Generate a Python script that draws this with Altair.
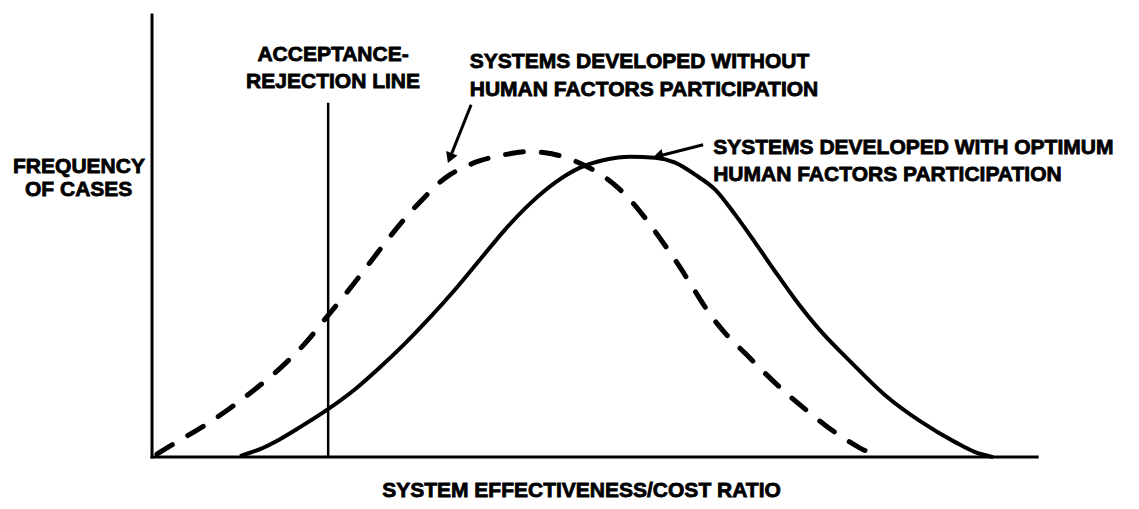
import altair as alt
import pandas as pd

# ---- data (x: effectiveness/cost ratio, 0..100 along axis; y: frequency, 0..100) ----
dashed_x = [0.56, 3.16, 5.99, 8.81, 11.64, 14.46, 17.29, 19.89, 22.37, 24.63, 26.89, 29.15, 30.85,
            32.20, 33.67, 35.14, 37.06, 38.76, 40.45, 42.37, 44.41, 46.44, 48.70, 51.07, 52.88,
            54.58, 56.27, 57.97, 59.66, 61.36, 63.05, 64.97, 67.01, 69.27, 71.53, 73.79, 76.05,
            78.31, 80.00, 81.47]
dashed_y = [0.98, 5.56, 10.46, 16.01, 22.22, 29.08, 37.25, 46.41, 55.23, 63.73, 72.22, 80.07, 85.29,
            89.22, 92.48, 94.77, 97.06, 98.37, 99.35, 100.0, 99.67, 98.37, 95.75, 91.83, 87.58,
            82.35, 76.14, 69.28, 62.09, 54.25, 46.73, 39.87, 33.99, 27.45, 21.24, 15.69, 10.46,
            5.88, 2.94, 0.98]

solid_x = [9.94, 12.20, 14.46, 16.72, 19.89, 22.94, 25.76, 28.59, 31.41, 34.24, 37.06, 39.89, 42.71,
           45.54, 48.36, 51.19, 54.01, 56.84, 59.10, 61.36, 63.62, 65.88, 68.14, 70.40, 72.66,
           75.48, 78.87, 82.82, 86.78, 90.73, 92.99, 95.03]
solid_y = [0.33, 2.61, 5.88, 9.80, 15.69, 22.22, 29.41, 37.25, 45.75, 54.90, 64.71, 74.51, 83.01,
           89.87, 94.77, 97.39, 98.37, 98.04, 96.41, 92.48, 87.58, 79.41, 70.26, 60.78, 51.63,
           41.50, 31.37, 20.26, 11.76, 4.90, 1.63, 0.0]

acceptance_x = 19.9
acceptance_top = 116.0
axis_x_end = 100.0
axis_y_top = 144.8

# annotations
center_labels = ["ACCEPTANCE-", "REJECTION LINE"]
center_x = [20.45, 20.45]
center_y = [131.7, 122.9]

left_labels = ["SYSTEMS DEVELOPED WITHOUT", "HUMAN FACTORS PARTICIPATION",
               "SYSTEMS DEVELOPED WITH OPTIMUM", "HUMAN FACTORS PARTICIPATION",
               "FREQUENCY", "OF CASES",
               "SYSTEM EFFECTIVENESS/COST RATIO"]
left_x = [35.9, 35.9, 63.4, 63.4, -15.7, -14.35, 26.0]
left_y = [129.4, 120.3, 101.3, 92.5, 95.1, 87.6, -11.1]

arrow_tail_x = [36.05, 62.26]
arrow_tail_y = [115.4, 102.3]
arrow_tip_x = [33.65, 57.15]
arrow_tip_y = [97.9, 98.5]
arrow_angle = [201.6, 255.4]

# ---- tables ----
dashed_df = pd.DataFrame({"x": dashed_x, "y": dashed_y})
solid_df = pd.DataFrame({"x": solid_x, "y": solid_y})
axes_df = pd.DataFrame({"x": [0.0, 0.0], "y": [0.0, 0.0],
                        "x2": [0.0, axis_x_end], "y2": [axis_y_top, 0.0]})
acc_df = pd.DataFrame({"x": [acceptance_x], "y": [0.0], "y2": [acceptance_top]})
ctext_df = pd.DataFrame({"x": center_x, "y": center_y, "t": center_labels})
ltext_df = pd.DataFrame({"x": left_x, "y": left_y, "t": left_labels})
arrow_df = pd.DataFrame({"x": arrow_tail_x, "y": arrow_tail_y,
                         "x2": arrow_tip_x, "y2": arrow_tip_y, "a": arrow_angle})

xs = alt.Scale(domain=[-16.27, 110.6], nice=False, zero=False)
ys = alt.Scale(domain=[-14.05, 147.06], nice=False, zero=False)

FONT = "Liberation Sans"


def X(f="x"):
    return alt.X(f + ":Q", scale=xs, axis=None)


def Y(f="y"):
    return alt.Y(f + ":Q", scale=ys, axis=None)


axes = alt.Chart(axes_df).mark_rule(color="black", strokeWidth=3, strokeCap="square").encode(
    x=X(), y=Y(), x2="x2:Q", y2="y2:Q")

acc = alt.Chart(acc_df).mark_rule(color="black", strokeWidth=2.5).encode(
    x=X(), y=Y(), y2="y2:Q")

dashed = alt.Chart(dashed_df).mark_line(
    color="black", strokeWidth=5, strokeDash=[18, 18], strokeCap="round",
    interpolate="monotone").encode(x=X(), y=Y(), order="x:Q")

solid = alt.Chart(solid_df).mark_line(
    color="black", strokeWidth=4, interpolate="monotone").encode(x=X(), y=Y(), order="x:Q")

shafts = alt.Chart(arrow_df).mark_rule(color="black", strokeWidth=3).encode(
    x=X(), y=Y(), x2="x2:Q", y2="y2:Q")

heads = alt.Chart(arrow_df).mark_point(
    shape="triangle-up", filled=True, color="black", opacity=1, size=150).encode(
    x=X("x2"), y=Y("y2"), angle=alt.Angle("a:Q", scale=None))

ctext = alt.Chart(ctext_df).mark_text(
    font=FONT, fontSize=21, fontWeight="bold", align="center", baseline="middle",
    color="black", stroke="black", strokeWidth=0.8).encode(x=X(), y=Y(), text="t:N")

ltext = alt.Chart(ltext_df).mark_text(
    font=FONT, fontSize=21, fontWeight="bold", align="left", baseline="middle",
    color="black", stroke="black", strokeWidth=0.8).encode(x=X(), y=Y(), text="t:N")

chart = alt.layer(axes, acc, dashed, solid, shafts, heads, ctext, ltext).properties(
    width=1123, height=493,
    autosize=alt.AutoSizeParams(type="fit", contains="padding"),
    padding=0,
    background="white",
).configure_view(stroke=None)

chart.save("out.html", embed_options={"renderer": "svg", "actions": False})
